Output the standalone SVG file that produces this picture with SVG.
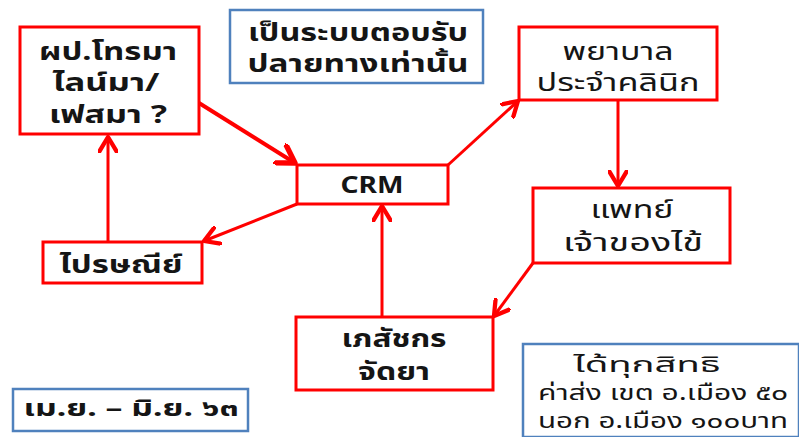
<svg xmlns="http://www.w3.org/2000/svg" width="799" height="437" viewBox="0 0 799 437">
<style>
.rbox{fill:#fff;stroke:#ff0000;stroke-width:3}
.bbox{fill:#fff;stroke:#4f81bd;stroke-width:2.5}
.t{font-family:"Noto Sans","Noto Sans Thai","DejaVu Sans",sans-serif;fill:#151515;text-anchor:middle;font-weight:normal}
.b{font-weight:bold}
.conn line{stroke:#ff0000;stroke-width:3;fill:none}
</style>
<defs>
<marker id="ah" markerUnits="userSpaceOnUse" markerWidth="20" markerHeight="20" refX="11" refY="7" orient="auto" viewBox="0 0 14 14">
<path d="M1,1 L11,7 L1,13" fill="none" stroke="#ff0000" stroke-width="3" stroke-linecap="round" stroke-linejoin="round"/>
</marker>
<marker id="ahb" markerUnits="userSpaceOnUse" markerWidth="24" markerHeight="24" refX="14" refY="9" orient="auto" viewBox="0 0 18 18">
<path d="M1,1 L14,9 L1,17" fill="none" stroke="#ff0000" stroke-width="4" stroke-linecap="round" stroke-linejoin="round"/>
</marker>
</defs>
<rect width="799" height="437" fill="#fff"/>
<g class="conn" id="connectors">
<line x1="199" y1="103" x2="295" y2="163" style="stroke-width:4" marker-end="url(#ahb)"/>
<line x1="108" y1="242" x2="108" y2="137" marker-end="url(#ah)"/>
<line x1="297" y1="204" x2="204" y2="241" marker-end="url(#ah)"/>
<line x1="448" y1="165" x2="518" y2="101" marker-end="url(#ah)"/>
<line x1="618" y1="100" x2="618" y2="186" marker-end="url(#ah)"/>
<line x1="533" y1="263" x2="494" y2="316" marker-end="url(#ah)"/>
<line x1="382" y1="317" x2="382" y2="206" marker-end="url(#ah)"/>
</g>
<g id="n-call">
<rect class="rbox" x="20" y="27" width="179" height="107"/>
<text class="t b" x="108" y="60" font-size="25" textLength="138" lengthAdjust="spacingAndGlyphs">ผป.โทรมา</text>
<text class="t b" x="106" y="91" font-size="25" textLength="107" lengthAdjust="spacingAndGlyphs">ไลน์มา/</text>
<text class="t b" x="108" y="123" font-size="25" textLength="118" lengthAdjust="spacingAndGlyphs">เฟสมา ?</text>
</g>
<g id="n-note-top">
<rect class="bbox" x="230" y="10" width="253" height="73"/>
<text class="t b" x="358" y="41" font-size="24" textLength="220" lengthAdjust="spacingAndGlyphs">เป็นระบบตอบรับ</text>
<text class="t b" x="358" y="72" font-size="24" textLength="221" lengthAdjust="spacingAndGlyphs">ปลายทางเท่านั้น</text>
</g>
<g id="n-nurse">
<rect class="rbox" x="519" y="27" width="198" height="73"/>
<text class="t" x="618" y="60" font-size="24" textLength="111" lengthAdjust="spacingAndGlyphs">พยาบาล</text>
<text class="t" x="618" y="91" font-size="24" textLength="163" lengthAdjust="spacingAndGlyphs">ประจำคลินิก</text>
</g>
<g id="n-crm">
<rect class="rbox" x="297" y="165" width="151" height="39"/>
<text class="t b" x="372" y="193" font-size="23" textLength="63" lengthAdjust="spacingAndGlyphs">CRM</text>
</g>
<g id="n-post">
<rect class="rbox" x="43" y="242" width="159" height="41"/>
<text class="t b" x="121" y="273" font-size="25" textLength="123" lengthAdjust="spacingAndGlyphs">ไปรษณีย์</text>
</g>
<g id="n-doctor">
<rect class="rbox" x="533" y="188" width="197" height="75"/>
<text class="t" x="632" y="218" font-size="24" textLength="83" lengthAdjust="spacingAndGlyphs">แพทย์</text>
<text class="t" x="633" y="251" font-size="24" textLength="140" lengthAdjust="spacingAndGlyphs">เจ้าของไข้</text>
</g>
<g id="n-pharm">
<rect class="rbox" x="296" y="317" width="197" height="73"/>
<text class="t b" x="394" y="347" font-size="24" textLength="105" lengthAdjust="spacingAndGlyphs">เภสัชกร</text>
<text class="t b" x="394" y="380" font-size="24" textLength="72" lengthAdjust="spacingAndGlyphs">จัดยา</text>
</g>
<g id="n-note-fee">
<rect class="bbox" x="523" y="344" width="276" height="93"/>
<text class="t" x="647" y="372" font-size="21" textLength="147" lengthAdjust="spacingAndGlyphs">ได้ทุกสิทธิ</text>
<text class="t" x="663" y="400" font-size="21" textLength="250" lengthAdjust="spacingAndGlyphs">ค่าส่ง เขต อ.เมือง ๕๐</text>
<text class="t" x="663" y="428" font-size="21" textLength="250" lengthAdjust="spacingAndGlyphs">นอก อ.เมือง ๑๐๐บาท</text>
</g>
<g id="n-date">
<rect class="bbox" x="13" y="389" width="235" height="42"/>
<text class="t b" x="131" y="416" font-size="23" textLength="215" lengthAdjust="spacingAndGlyphs">เม.ย. – มิ.ย. ๖๓</text>
</g>
</svg>
